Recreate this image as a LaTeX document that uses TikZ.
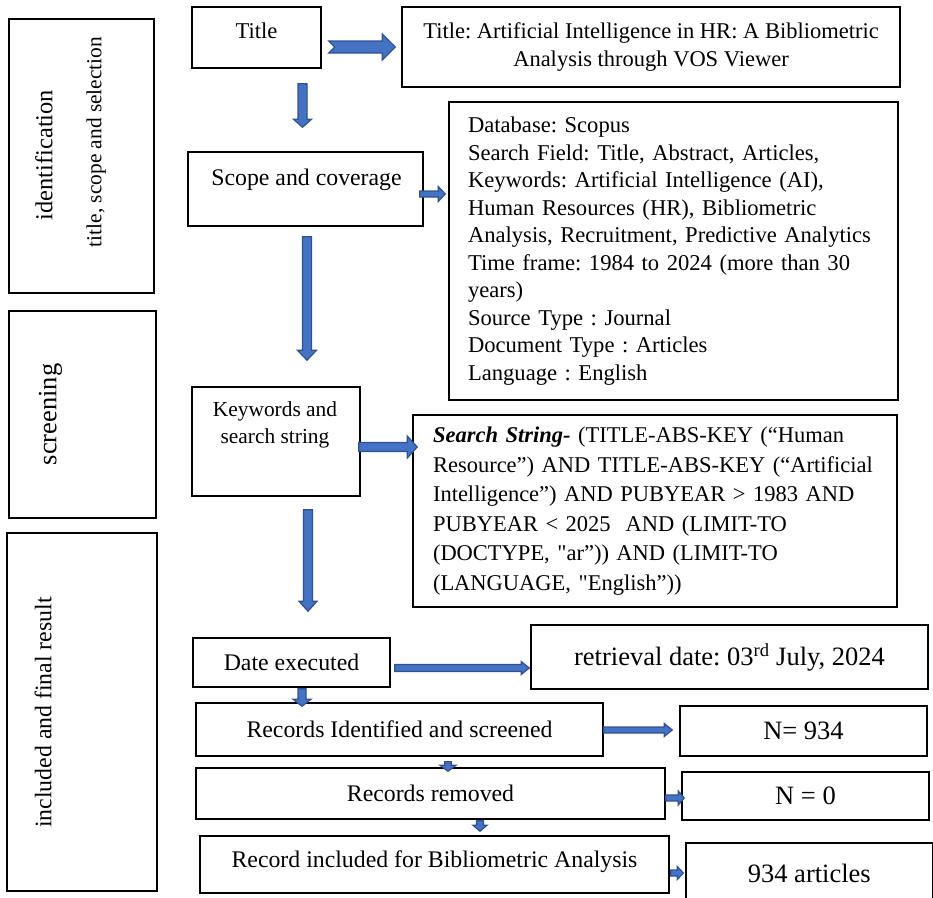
\documentclass[tikz,border=0pt]{standalone}
\usepackage{fontspec}
\setmainfont{Liberation Serif}[Ligatures=TeXOff]
\usetikzlibrary{calc}

\definecolor{arrowfill}{HTML}{4472C4}
\definecolor{arrowedge}{HTML}{2F528F}

\begin{document}
\frenchspacing
\begin{tikzpicture}[x=1pt, y=-1pt]
	% Configurable lengths (one unit = one pixel of the sketch)
	\def\boxLine{1.5pt}
	\def\arrowLine{1.2pt}

	% Styles
	\tikzstyle{stepbox}=[draw, rectangle, line width=\boxLine, inner sep=0pt, font={\fontsize{23.8}{28}\selectfont}]
	\tikzstyle{steptext}=[inner sep=0pt, align=center, anchor=north, font={\fontsize{23.8}{28}\selectfont}]
	\tikzstyle{phasebox}=[draw, rectangle, line width=\boxLine]
	\tikzstyle{phasetext}=[rotate=90, anchor=base, inner sep=0pt, font={\fontsize{24.4}{29}\selectfont}]
	\tikzstyle{infobox}=[stepbox, align=left, font={\fontsize{22.6}{27.5}\selectfont}]
	\tikzstyle{countbox}=[stepbox, font={\fontsize{26.5}{30}\selectfont}]
	\tikzset{boxsize/.style 2 args={minimum width=#1pt, minimum height=#2pt}}
	% block arrow: shaft width, head width, head length, tail notch
	\tikzset{flow/.style n args={4}{draw=arrowedge, fill=arrowfill, line width=\arrowLine, line join=miter,
		to path={let \p1=(\tikztostart), \p2=(\tikztotarget),
			\n1={atan2(\y2-\y1,\x2-\x1)}, \n2={veclen(\x2-\x1,\y2-\y1)} in
			{[shift={(\p1)}, rotate=\n1]
			(0,{#1/2}) -- ({\n2-#3},{#1/2}) -- ({\n2-#3},{#2/2}) -- ({\n2},0)
			-- ({\n2-#3},{-#2/2}) -- ({\n2-#3},{-#1/2}) -- (0,{-#1/2}) -- (#4,0) -- cycle}}}}

	\useasboundingbox (0,0) rectangle (933,897);

	% Phases
	\node[phasebox, boxsize={145}{274}] (identify) at (81.5,156) {};
	\node[phasebox, boxsize={147}{207}] (screen) at (82.5,414.5) {};
	\node[phasebox, boxsize={150}{358}] (include) at (82,712) {};
	\node[phasetext] (idtext) at ($(identify.west)+(44,-1)$) {identification};
	\node[phasetext, font={\fontsize{21.4}{26}\selectfont}] (idtextb) at ($(identify.west)+(93,-14)$) {title, scope and selection};
	\node[phasetext, font={\fontsize{26.5}{30}\selectfont}] (screentext) at ($(screen.west)+(48,0)$) {screening};
	\node[phasetext, font={\fontsize{23.8}{28}\selectfont}] (includetext) at ($(include.west)+(45,0.5)$) {included and final result};

	% Steps
	\node[stepbox, boxsize={129}{61}] (title) at (256.5,37.5) {};
	\node[steptext, font={\fontsize{22.6}{27}\selectfont}] (titletext) at ($(title.north)+(0,16)$) {Title};
	\node[stepbox, boxsize={235}{74}] (scope) at (305.5,189) {};
	\node[steptext] (scopetext) at ($(scope.north)+(1,18)$) {Scope and coverage};
	\node[stepbox, boxsize={168}{109}] (keywords) at (276,441.5) {};
	\node[steptext, font={\fontsize{21.4}{27}\selectfont}] (keywordstext) at ($(keywords.north)+(-1,15)$) {Keywords and\\search string};
	\node[stepbox, boxsize={197}{49}] (date) at (291.5,662.5) {Date executed};
	\node[stepbox, boxsize={407}{53}] (records) at (399.5,729.5) {Records Identified and screened};
	\node[stepbox, boxsize={469}{51}] (removed) at (430.5,793.5) {Records removed};
	\node[stepbox, boxsize={469}{57}] (included) at (434.5,864.5) {};
	\node[steptext] (includedtext) at ($(included.north)+(0,15)$) {Record included for Bibliometric Analysis};

	% Details
	\node[stepbox, boxsize={498}{80}, align=center, font={\fontsize{22.5}{28}\selectfont}] (result) at (651,47)
		{Title: Artificial Intelligence in HR: A Bibliometric\\Analysis through VOS Viewer};
	\node[infobox, boxsize={449}{298}, text width=411pt] (details) at (673.5,251)
		{Database: Scopus\\
		Search Field: Title, Abstract, Articles,\\
		Keywords: Artificial Intelligence (AI),\\
		Human Resources (HR), Bibliometric\\
		Analysis, Recruitment, Predictive Analytics\\
		Time frame: 1984 to 2024 (more than 30\\
		years)\\
		Source Type : Journal\\
		Document Type : Articles\\
		Language : English};
	\node[infobox, boxsize={484}{192}, text width=444pt, font={\fontsize{22.5}{29.5}\selectfont}] (search) at (655,511)
		{\textbf{\textit{Search String-}} (TITLE-ABS-KEY (“Human\\
		Resource”) AND TITLE-ABS-KEY (“Artificial\\
		Intelligence”) AND PUBYEAR > 1983 AND\\
		PUBYEAR < 2025 \ AND (LIMIT-TO\\
		(DOCTYPE, "ar”)) AND (LIMIT-TO\\
		(LANGUAGE, "English”))};
	\node[countbox, boxsize={397}{64}] (retrieval) at (729.5,657) {retrieval date: 03\textsuperscript{rd} July, 2024};
	\node[countbox, boxsize={247}{50}] (found) at (803.5,731) {N= 934};
	\node[countbox, boxsize={247}{48}] (dropped) at (805.5,796) {N = 0};
	\node[countbox, boxsize={246.5}{60}] (articles) at (809.3,873) {934 articles};

	% Arrows down the flow
	\draw[flow={9}{18}{8}{0}] ($(title.south -| scope.north)+(-3,15)$) to ($(scope.north)+(-3,-24)$);
	\draw[flow={9}{19}{10}{0}] ($(scope.south)+(1.5,10)$) to ($(scope.south |- keywords.north)+(1.5,-26)$);
	\draw[flow={9}{18}{10}{0}] ($(keywords.south)+(32,13)$) to ($(date.north)+(16.5,-26)$);
	\draw[flow={8}{18}{7}{0}] ($(date.south)+(10.5,1)$) to ($(date.south |- records.north)+(10.5,4)$);
	\draw[flow={6.5}{16}{6}{0}] ($(records.south)+(48.5,5)$) to ($(records.south |- removed.north)+(48.5,4)$);
	\draw[flow={7}{14}{6}{0}] ($(removed.south)+(49.5,1)$) to ($(removed.south |- included.north)+(49.5,-4)$);

	% Arrows to the details
	\draw[flow={12}{26}{13}{6}] ($(title.east |- result.west)+(7,0)$) to ($(result.west)+(-6,0)$);
	\draw[flow={6}{15}{7}{0}] ($(scope.east)+(-4,5)$) to ($(scope.east -| details.west)+(-3,5)$);
	\draw[flow={9}{22}{10}{0}] ($(keywords.east)+(-2,5.5)$) to ($(keywords.east -| search.west)+(5,5.5)$);
	\draw[flow={7}{13}{8}{0}] ($(date.east)+(4,5.5)$) to ($(date.east -| retrieval.west)+(-1,5.5)$);
	\draw[flow={6}{13}{8}{0}] ($(records.east)+(0,0.5)$) to ($(records.east -| found.west)+(-7,0.5)$);
	\draw[flow={6}{14}{6}{0}] ($(removed.east)+(0,4.5)$) to ($(removed.east -| dropped.west)+(3,4.5)$);
	\draw[flow={6}{13}{6}{0}] ($(included.east)+(1,8.5)$) to ($(included.east -| articles.west)+(-2,8.5)$);
\end{tikzpicture}
\end{document}
